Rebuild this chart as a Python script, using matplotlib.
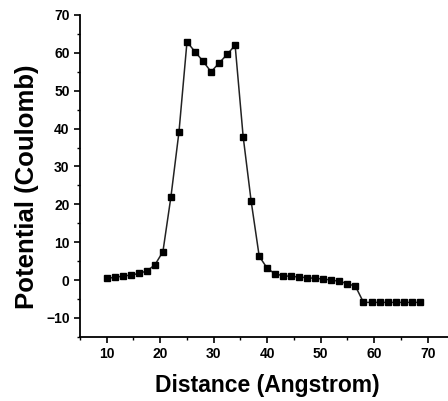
import matplotlib
matplotlib.use("Agg")
import matplotlib.pyplot as plt
from matplotlib.ticker import MultipleLocator

distance = [10, 11.5, 13, 14.5, 16, 17.5, 19, 20.5, 22, 23.5,
            25, 26.5, 28, 29.5, 31, 32.5, 34, 35.5, 37, 38.5,
            40, 41.5, 43, 44.5, 46, 47.5, 49, 50.5, 52, 53.5,
            55, 56.5, 58, 59.5, 61, 62.5, 64, 65.5, 67, 68.5]
potential = [0.45, 0.7, 1.05, 1.3, 1.75, 2.4, 4.0, 7.5, 22.0, 39.1,
             62.9, 60.3, 57.8, 55.0, 57.3, 59.6, 62.0, 37.9, 20.8, 6.3,
             3.1, 1.6, 1.15, 0.95, 0.8, 0.6, 0.45, 0.25, 0.0, -0.35,
             -0.95, -1.65, -5.9, -5.9, -5.9, -5.9, -5.9, -5.9, -5.9, -5.9]

plt.rcParams['font.family'] = ['Liberation Sans', 'DejaVu Sans']
fig = plt.figure(figsize=(4.48, 4.01), dpi=100)
ax = fig.add_axes([0.1786, 0.160, 0.8214, 0.8026])
ax.plot(distance, potential, color='#222222', lw=1.1, marker='s', ms=4,
        mfc='black', mec='black', clip_on=False)
ax.set_xlim(5, 73.8)
ax.set_ylim(-15, 70)
for s in ['top', 'right']:
    ax.spines[s].set_visible(False)
for s in ['left', 'bottom']:
    ax.spines[s].set_linewidth(1.3)
ax.xaxis.set_minor_locator(MultipleLocator(5))
ax.yaxis.set_major_locator(MultipleLocator(10))
ax.yaxis.set_minor_locator(MultipleLocator(5))
ax.set_xticks([10, 20, 30, 40, 50, 60, 70])
ax.tick_params(which='major', direction='out', length=4, width=1.2, labelsize=10)
ax.tick_params(which='minor', direction='out', length=2.5, width=1.0)
for lab in ax.get_xticklabels() + ax.get_yticklabels():
    lab.set_fontweight('bold')
ax.set_xlabel('Distance (Angstrom)', fontsize=16.5, fontweight='bold')
ax.set_ylabel('Potential (Coulomb)', fontsize=18.5, fontweight='bold')
ax.xaxis.set_label_coords(0.508, -0.115)
ax.yaxis.set_label_coords(-0.112, 0.467)
fig.savefig('out.png', dpi=100)
